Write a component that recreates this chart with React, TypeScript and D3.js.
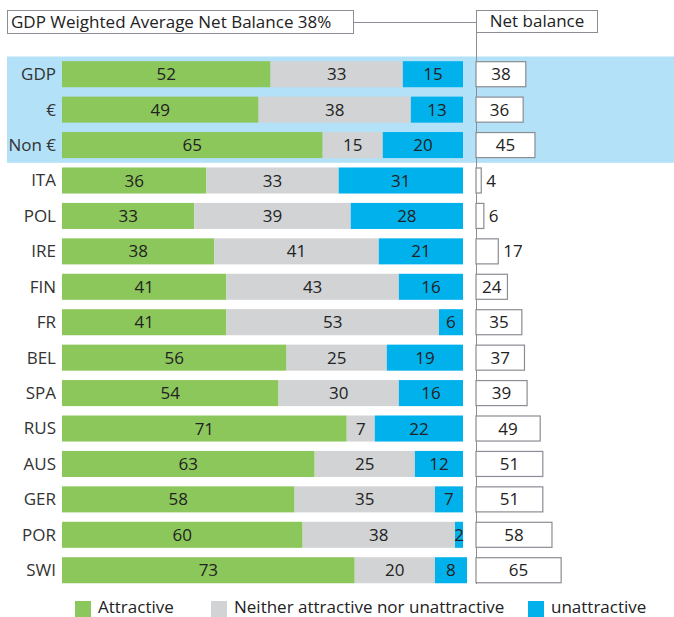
import React from 'react';
import * as d3 from 'd3';

const categories = ['GDP', '€', 'Non €', 'ITA', 'POL', 'IRE', 'FIN', 'FR', 'BEL', 'SPA', 'RUS', 'AUS', 'GER', 'POR', 'SWI'];
const attractive = [52, 49, 65, 36, 33, 38, 41, 41, 56, 54, 71, 63, 58, 60, 73];
const neither = [33, 38, 15, 33, 39, 41, 43, 53, 25, 30, 7, 25, 35, 38, 20];
const unattractive = [15, 13, 20, 31, 28, 21, 16, 6, 19, 16, 22, 12, 7, 2, 8];
const netBalance = [38, 36, 45, 4, 6, 17, 24, 35, 37, 39, 49, 51, 51, 58, 65];
const seriesNames = ['Attractive', 'Neither attractive nor unattractive', 'unattractive'];
const highlighted = ['GDP', '€', 'Non €'];
const title = 'GDP Weighted Average Net Balance 38%';

const colors = ['#8cc75b', '#d1d3d5', '#00b1eb'];
const font = '"Open Sans", sans-serif';
const fs = 17;

export default function App() {
  const width = 674;
  const height = 617;

  const y = d3.scaleBand<string>()
    .domain(categories)
    .range([56.5, 56.5 + 15 * 35.43])
    .paddingInner(0.265)
    .paddingOuter(0.1325);

  const x = d3.scaleLinear().domain([0, 100]).range([62, 463]);
  const xNet = d3.scaleLinear().domain([0, 100]).range([476, 607]);

  const rows = categories.map((c, i) => ({
    c,
    vals: [attractive[i], neither[i], unattractive[i]],
    net: netBalance[i],
  }));

  const step = y.step();
  const hlTop = 56.5;
  const hlBottom = 56.5 + highlighted.length * step;

  return (
    <svg width={width} height={height} style={{ position: 'absolute', left: 0, top: 0, fontFamily: font }}>
      {/* highlight band */}
      <rect x={7} y={hlTop} width={width - 7} height={hlBottom - hlTop} fill="#b3e1f7" />

      {/* header */}
      <rect x={7.5} y={10.5} width={346} height={23} fill="#fff" stroke="#8a8d93" />
      <text x={11} y={22} dy="0.35em" fontSize={fs} fill="#222">{title}</text>
      <line x1={354} x2={476} y1={22.5} y2={22.5} stroke="#8a8d93" />
      <rect x={476.5} y={10.5} width={121} height={22} fill="#fff" stroke="#8a8d93" />
      <text x={537} y={21.5} dy="0.35em" fontSize={fs} textAnchor="middle" fill="#222">Net balance</text>
      <line x1={476.5} x2={476.5} y1={33} y2={584} stroke="#8a8d93" />

      {rows.map((r) => {
        const top = y(r.c)!;
        const bh = y.bandwidth();
        const cy = top + bh / 2;
        let acc = 0;
        const netW = xNet(r.net) - xNet(0);
        const inside = netW > 28;
        return (
          <g key={r.c}>
            <text x={56} y={cy} dy="0.35em" textAnchor="end" fontSize={fs} fill="#333">{r.c}</text>
            {r.vals.map((v, k) => {
              const x0 = x(acc);
              acc += v;
              const x1 = x(acc);
              return (
                <g key={k}>
                  <rect x={x0} y={top} width={x1 - x0} height={bh} fill={colors[k]} />
                  <text x={k === 2 && v < 4 ? x1 - 4 : (x0 + x1) / 2} y={cy} dy="0.36em" textAnchor="middle" fontSize={fs} fill="#222">{v}</text>
                </g>
              );
            })}
            <rect x={xNet(0)} y={top + 0.5} width={netW} height={bh - 1} fill="#fff" stroke="#8a8d93" strokeWidth={1.2} />
            <text
              x={inside ? xNet(0) + netW / 2 : xNet(r.net) + 5}
              y={cy}
              dy="0.36em"
              textAnchor={inside ? 'middle' : 'start'}
              fontSize={fs}
              fill="#222"
            >{r.net}</text>
          </g>
        );
      })}

      {/* legend */}
      {seriesNames.map((s, k) => {
        const lx = [75, 211, 528][k];
        return (
          <g key={s}>
            <rect x={lx} y={601} width={16} height={16} fill={colors[k]} />
            <text x={lx + 23} y={607} dy="0.35em" fontSize={fs} fill="#222">{s}</text>
          </g>
        );
      })}
    </svg>
  );
}
